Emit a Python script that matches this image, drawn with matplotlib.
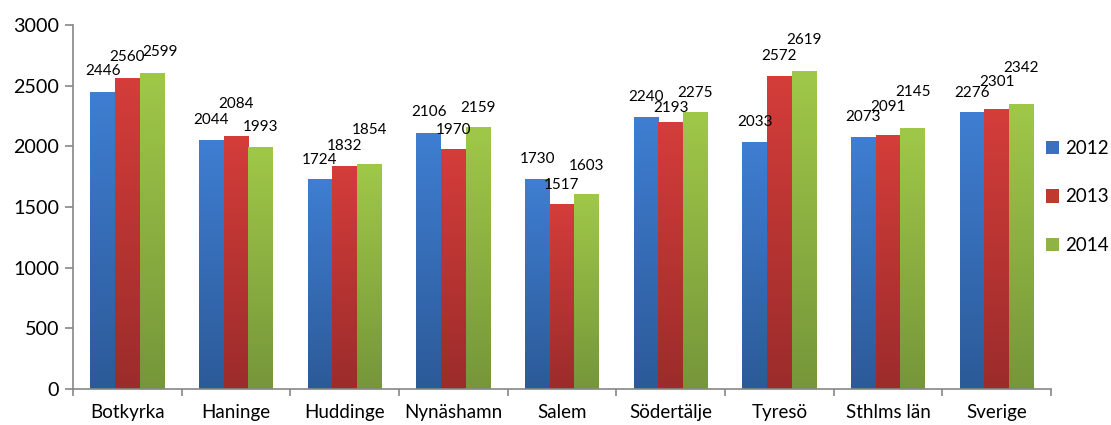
import numpy as np
import matplotlib
matplotlib.use("Agg")
import matplotlib.pyplot as plt
from matplotlib.patches import Patch
from matplotlib.colors import LinearSegmentedColormap

plt.rcParams["font.family"] = ["Lato", "DejaVu Sans"]

categories = ["Botkyrka", "Haninge", "Huddinge", "Nynäshamn", "Salem",
              "Södertälje", "Tyresö", "Sthlms län", "Sverige"]
years = ["2012", "2013", "2014"]
v2012 = [2446, 2044, 1724, 2106, 1730, 2240, 2033, 2073, 2276]
v2013 = [2560, 2084, 1832, 1970, 1517, 2193, 2572, 2091, 2301]
v2014 = [2599, 1993, 1854, 2159, 1603, 2275, 2619, 2145, 2342]
series = [v2012, v2013, v2014]

# gradient colours (bottom, top) and legend colour
grads = [("#2c5a98", "#3f7ed2"), ("#9b2c2b", "#d43d3a"), ("#76963a", "#a0c848")]
solid = ["#3a70bd", "#c0392f", "#8fb445"]

# label offsets above bar tops (pixels), Excel-style collision avoidance
lab_dy = [[21, 21, 20, 21, 20, 20, 20, 20, 20],
          [21, 32, 21, 20, 20, 15, 21, 28, 28],
          [22, 20, 34, 19, 29, 20, 31, 37, 37]]
lab_dx = [[0] * 9, [0] * 9, [8, 0, 0, 0, 0, 0, 0, 0, 0]]

fig = plt.figure(figsize=(11.11, 4.25), dpi=100)
ax = fig.add_axes([73 / 1111, 36 / 425, 978 / 1111, 364 / 425])

x = np.arange(len(categories))
w = 0.227
grad = np.linspace(0, 1, 256).reshape(-1, 1)
for k, vals in enumerate(series):
    bars = ax.bar(x + (k - 1) * w, vals, w, color="none", edgecolor="none", zorder=2)
    cmap = LinearSegmentedColormap.from_list("g%d" % k, grads[k])
    for i, b in enumerate(bars):
        x0, y0 = b.get_x(), b.get_y()
        ax.imshow(grad, cmap=cmap, origin="lower", aspect="auto",
                  extent=[x0, x0 + b.get_width(), y0, y0 + b.get_height()],
                  zorder=2, interpolation="bilinear")
        ax.annotate(str(vals[i]), (x0 + b.get_width() / 2, b.get_height()),
                    xytext=(lab_dx[k][i] * 0.72, lab_dy[k][i] * 0.72),
                    textcoords="offset points", ha="center", va="center",
                    fontsize=11, color="#000000")

ax.set_xlim(-0.5, len(categories) - 0.5)
ax.set_ylim(0, 3000)
ax.set_yticks(range(0, 3001, 500))
ax.set_xticks(x)
ax.set_xticklabels(categories)
ax.set_xticks(np.arange(-0.5, len(categories), 1), minor=True)
ax.tick_params(axis="x", which="major", length=0, pad=11, labelsize=13.5)
ax.tick_params(axis="x", which="minor", length=5, color="#868686", width=1.2)
ax.tick_params(axis="y", length=6, color="#868686", width=1.2, labelsize=14.2, pad=4)
for s in ["top", "right"]:
    ax.spines[s].set_visible(False)
for s in ["left", "bottom"]:
    ax.spines[s].set_color("#868686")
    ax.spines[s].set_linewidth(1.2)

handles = [Patch(facecolor=c, edgecolor="none") for c in solid]
fig.legend(handles, years, loc="center left", bbox_to_anchor=(1046 / 1111, 1 - 197 / 425),
           frameon=False, fontsize=13.5, handlelength=0.7, handleheight=0.7,
           handletextpad=0.3, labelspacing=1.7, borderaxespad=0, borderpad=0)

fig.savefig("out.png", dpi=100)
